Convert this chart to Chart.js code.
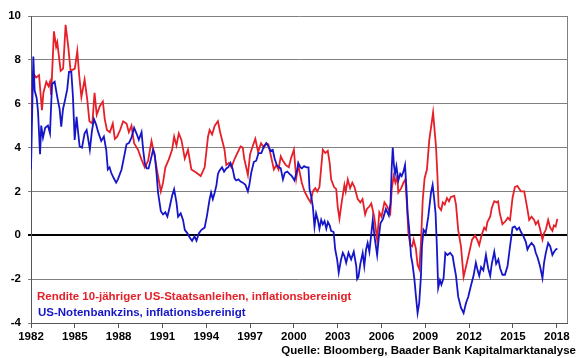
<!DOCTYPE html>
<html>
<head>
<meta charset="utf-8">
<script src="https://cdn.jsdelivr.net/npm/chart.js@4/dist/chart.umd.min.js"></script>
<style>
  html, body { margin: 0; padding: 0; background: #fff; }
</style>
</head>
<body>
<canvas id="chart" width="580" height="358"></canvas>
<script>
// Rendite 10-jähriger US-Staatsanleihen, inflationsbereinigt (red)
const redYears = [1982.00, 1982.15, 1982.35, 1982.55, 1982.75, 1982.85, 1983.05, 1983.2, 1983.3, 1983.38,
  1983.57, 1983.72, 1983.8, 1984.03, 1984.2, 1984.37, 1984.55, 1984.71, 1985.0, 1985.17,
  1985.3, 1985.45, 1985.67, 1985.85, 1986.0, 1986.2, 1986.35, 1986.5, 1986.72, 1986.92,
  1987.05, 1987.2, 1987.4, 1987.6, 1987.74, 1987.9, 1988.1, 1988.31, 1988.54, 1988.7,
  1988.88, 1989.06, 1989.33, 1989.57, 1989.79, 1990.02, 1990.25, 1990.43, 1990.66, 1990.89,
  1991.04, 1991.2, 1991.43, 1991.66, 1991.8, 1991.96, 1992.12, 1992.3, 1992.53, 1992.75,
  1992.98, 1993.33, 1993.62, 1993.89, 1994.12, 1994.23, 1994.4, 1994.58, 1994.8, 1994.95,
  1995.14, 1995.25, 1995.37, 1995.55, 1995.72, 1995.95, 1996.17, 1996.35, 1996.5, 1996.6,
  1996.85, 1997.0, 1997.15, 1997.36, 1997.55, 1997.75, 1997.95, 1998.11, 1998.25, 1998.4,
  1998.63, 1998.8, 1998.95, 1999.1, 1999.25, 1999.45, 1999.65, 1999.8, 2000.0, 2000.16,
  2000.3, 2000.54, 2000.73, 2000.96, 2001.14, 2001.3, 2001.46, 2001.6, 2001.75, 2001.98,
  2002.15, 2002.32, 2002.45, 2002.55, 2002.75, 2002.9, 2003.0, 2003.12, 2003.25, 2003.46,
  2003.55, 2003.69, 2003.85, 2004.0, 2004.15, 2004.37, 2004.55, 2004.7, 2004.88, 2005.0,
  2005.15, 2005.3, 2005.5, 2005.7, 2005.85, 2006.0, 2006.2, 2006.4, 2006.6, 2006.7,
  2006.83, 2006.95, 2007.08, 2007.15, 2007.35, 2007.5, 2007.63, 2007.74, 2007.84, 2007.97,
  2008.1, 2008.2, 2008.35, 2008.47, 2008.59, 2008.7, 2008.82, 2008.95, 2009.11, 2009.27,
  2009.43, 2009.53, 2009.62, 2009.73, 2009.83, 2009.91, 2010.08, 2010.2, 2010.33, 2010.48,
  2010.62, 2010.75, 2010.98, 2011.1, 2011.25, 2011.44, 2011.62, 2011.78, 2012.0, 2012.2,
  2012.4, 2012.55, 2012.69, 2012.85, 2013.03, 2013.15, 2013.25, 2013.44, 2013.55, 2013.72,
  2013.88, 2013.98, 2014.1, 2014.28, 2014.5, 2014.65, 2014.8, 2014.97, 2015.13, 2015.3,
  2015.55, 2015.77, 2015.88, 2016.0, 2016.11, 2016.27, 2016.45, 2016.56, 2016.72, 2016.85,
  2017.02, 2017.13, 2017.25, 2017.41, 2017.55, 2017.7, 2017.8, 2017.92, 2018.04];
const redValues = [5.4, 7.4, 7.2, 7.3, 5.7, 6.5, 7.0, 6.8, 7.0, 6.4,
  9.3, 8.6, 8.8, 7.5, 7.6, 9.6, 8.6, 7.5, 7.6, 8.4,
  7.3, 6.3, 7.1, 6.2, 5.2, 5.1, 6.5, 5.5, 5.9, 6.1,
  5.3, 4.8, 4.7, 5.1, 4.4, 4.5, 4.8, 5.2, 5.1, 4.7,
  5.0, 4.2, 3.9, 3.45, 3.1, 3.4, 4.3, 3.75, 2.85, 2.0,
  2.4, 3.1, 3.45, 3.9, 4.5, 4.1, 4.65, 4.35, 3.5, 3.9,
  3.0, 2.85, 2.7, 3.1, 4.5, 4.8, 4.6, 5.0, 5.2, 4.7,
  4.2, 3.9, 3.2, 3.3, 3.1, 3.5, 3.8, 4.05, 4.0, 3.5,
  2.75, 3.7, 4.0, 4.4, 3.8, 4.2, 4.0, 4.2, 4.15, 3.7,
  3.0, 3.2, 3.0, 3.6, 3.4, 3.2, 3.1, 3.5, 3.9, 2.6,
  3.2, 2.4, 2.0, 1.7, 1.5, 2.0, 2.15, 2.0, 2.2, 3.9,
  3.75, 3.85, 3.3, 2.55, 2.2, 2.1, 1.3, 0.75, 1.4, 2.3,
  2.0, 2.55, 2.15, 2.4, 2.2, 1.65, 1.5, 1.65, 0.95, 1.2,
  1.3, 1.45, 0.85, -0.2, 1.05, 0.85, 1.5, 1.3, 1.0, 2.1,
  2.7, 2.4, 2.7, 1.95, 2.15, 2.4, 2.55, 1.4, 0.1, -0.45,
  -0.5, -0.2, -0.6, -1.35, -1.55, -0.35, 1.6, 2.6, 3.0, 4.35,
  5.1, 5.6, 4.9, 4.05, 2.7, 1.3, 1.15, 1.5, 1.4, 1.7,
  1.55, 1.75, 1.8, 1.4, 0.25, -0.5, -1.9, -1.45, -0.8, -0.2,
  0.0, -0.2, -0.45, 0.0, 0.35, 0.25, 0.6, 0.85, 1.25, 1.55,
  1.5, 1.55, 1.0, 0.5, 0.65, 0.8, 0.7, 1.7, 2.2, 2.25,
  2.0, 2.0, 1.6, 1.15, 0.7, 0.85, 0.7, 0.5, 0.65, 0.3,
  -0.2, 0.1, 0.25, 0.7, 0.35, 0.2, 0.45, 0.4, 0.75];

// US-Notenbankzins, inflationsbereinigt (blue)
const blueYears = [1982.0, 1982.16, 1982.25, 1982.39, 1982.48, 1982.62, 1982.7, 1982.82, 1982.97, 1983.16,
  1983.3, 1983.44, 1983.62, 1983.8, 1983.96, 1984.07, 1984.19, 1984.34, 1984.48, 1984.6,
  1984.76, 1984.87, 1984.99, 1985.12, 1985.21, 1985.33, 1985.49, 1985.67, 1985.81, 1985.9,
  1986.03, 1986.17, 1986.31, 1986.46, 1986.58, 1986.81, 1986.99, 1987.15, 1987.26, 1987.38,
  1987.49, 1987.67, 1987.83, 1987.95, 1988.2, 1988.38, 1988.54, 1988.7, 1988.88, 1989.06,
  1989.22, 1989.38, 1989.57, 1989.68, 1989.79, 1989.92, 1990.05, 1990.2, 1990.36, 1990.47,
  1990.59, 1990.7, 1990.89, 1991.04, 1991.2, 1991.34, 1991.5, 1991.66, 1991.8, 1991.96,
  1992.07, 1992.25, 1992.41, 1992.53, 1992.7, 1992.87, 1993.03, 1993.2, 1993.33, 1993.5,
  1993.67, 1993.89, 1994.05, 1994.23, 1994.33, 1994.45, 1994.58, 1994.7, 1994.8, 1994.9,
  1995.08, 1995.22, 1995.37, 1995.5, 1995.66, 1995.8, 1995.94, 1996.05, 1996.2, 1996.35,
  1996.5, 1996.68, 1996.85, 1996.95, 1997.08, 1997.26, 1997.42, 1997.58, 1997.77, 1997.95,
  1998.11, 1998.22, 1998.4, 1998.55, 1998.68, 1998.83, 1998.98, 1999.1, 1999.25, 1999.38,
  1999.55, 1999.7, 1999.86, 2000.04, 2000.23, 2000.3, 2000.45, 2000.55, 2000.7, 2000.85,
  2001.0, 2001.07, 2001.18, 2001.3, 2001.41, 2001.52, 2001.64, 2001.75, 2001.87, 2001.98,
  2002.1, 2002.22, 2002.33, 2002.45, 2002.55, 2002.72, 2002.83, 2002.96, 2003.07, 2003.23,
  2003.35, 2003.46, 2003.58, 2003.74, 2003.92, 2004.1, 2004.27, 2004.33, 2004.42, 2004.55,
  2004.71, 2004.82, 2004.94, 2005.05, 2005.17, 2005.28, 2005.4, 2005.52, 2005.7, 2005.83,
  2005.93, 2006.1, 2006.3, 2006.5, 2006.62, 2006.7, 2006.77, 2006.85, 2006.93, 2007.02,
  2007.15, 2007.28, 2007.38, 2007.5, 2007.61, 2007.7, 2007.79, 2007.9, 2008.02, 2008.12,
  2008.25, 2008.36, 2008.47, 2008.58, 2008.7, 2008.77, 2008.88, 2009.03, 2009.2, 2009.39,
  2009.5, 2009.6, 2009.7, 2009.79, 2009.88, 2010.0, 2010.1, 2010.25, 2010.37, 2010.52,
  2010.7, 2010.87, 2010.98, 2011.1, 2011.25, 2011.44, 2011.62, 2011.78, 2011.94, 2012.12,
  2012.3, 2012.46, 2012.58, 2012.69, 2012.82, 2012.97, 2013.15, 2013.3, 2013.44, 2013.55,
  2013.72, 2013.85, 2014.0, 2014.12, 2014.28, 2014.45, 2014.63, 2014.8, 2014.97, 2015.12,
  2015.27, 2015.42, 2015.55, 2015.72, 2015.88, 2015.99, 2016.1, 2016.27, 2016.45, 2016.56,
  2016.68, 2016.85, 2017.02, 2017.13, 2017.25, 2017.41, 2017.55, 2017.7, 2017.82, 2017.93,
  2018.04];
const blueValues = [3.0, 8.15, 6.6, 6.25, 5.65, 3.7, 5.0, 4.45, 4.9, 5.0,
  4.65, 6.9, 7.0, 6.3, 5.75, 4.95, 5.75, 6.2, 6.65, 7.45,
  7.45, 6.35, 4.35, 5.4, 4.8, 4.05, 4.0, 4.65, 4.8, 4.45,
  3.9, 4.75, 5.3, 5.05, 4.75, 4.3, 4.5, 3.9, 3.0, 3.1,
  2.85, 2.6, 2.4, 2.55, 3.0, 3.6, 4.15, 4.2, 4.45, 4.9,
  4.65, 4.35, 4.7, 3.9, 3.3, 3.05, 3.05, 3.45, 3.9, 3.7,
  2.85, 1.95, 1.1, 0.95, 1.05, 0.85, 1.3, 1.8, 2.1, 1.5,
  0.85, 1.0, 0.7, 0.25, 0.1, -0.1, -0.25, -0.05, -0.25, 0.1,
  0.25, 0.35, 0.9, 1.65, 1.95, 1.65, 1.95, 2.3, 2.8, 2.95,
  3.1, 2.9, 3.05, 3.1, 3.3, 3.05, 2.6, 2.5, 2.55, 2.45,
  2.4, 2.3, 2.0, 2.3, 2.85, 3.35, 3.4, 3.75, 3.75, 4.05,
  4.2, 4.1, 3.85, 3.9, 3.5, 3.2, 3.1, 3.05, 2.55, 2.85,
  2.9, 2.8, 2.7, 2.5, 3.0, 3.3, 3.1, 3.05, 3.15, 3.1,
  3.1, 2.1, 1.8, 1.3, 0.4, 1.0, 0.7, 0.3, 0.7, 0.5,
  0.65, 0.3, 0.6, 0.45, 0.2, 0.15, -0.65, -1.1, -1.7, -1.1,
  -0.8, -0.95, -1.25, -0.8, -1.1, -0.75, -1.4, -2.0, -1.9, -1.3,
  -0.8, -1.4, -0.65, -0.35, -0.75, -0.05, 0.7, -0.05, -0.9, 0.0,
  0.55, 0.75, 1.2, 0.9, 1.5, 3.1, 4.0, 3.2, 2.8, 3.15,
  2.5, 2.8, 2.7, 2.9, 3.2, 2.2, 1.0, 0.25, -0.95, -1.3,
  -2.0, -2.8, -3.55, -3.1, -1.85, -0.5, 0.25, 0.1, 0.85, 1.95,
  2.3, 1.7, 1.0, -0.5, -2.4, -2.05, -2.25, -1.95, -0.8, -0.9,
  -0.8, -0.95, -1.4, -1.85, -2.8, -3.3, -3.55, -3.1, -2.8, -2.3,
  -1.85, -1.25, -1.6, -1.85, -1.45, -1.6, -0.9, -1.5, -1.85, -1.3,
  -0.75, -1.3, -1.1, -1.5, -1.8, -1.8, -1.4, -0.5, 0.35, 0.4,
  0.25, 0.35, 0.15, -0.05, -0.3, -0.65, -0.5, -0.35, -0.5, -0.8,
  -1.0, -1.4, -1.95, -1.25, -0.8, -0.35, -0.5, -0.9, -0.75, -0.65,
  -0.6];

const tickYears = [1982, 1985, 1988, 1991, 1994, 1997, 2000, 2003, 2006, 2009, 2012, 2015, 2018];

const redLabel = 'Rendite 10-jähriger US-Staatsanleihen, inflationsbereinigt';
const blueLabel = 'US-Notenbankzins, inflationsbereinigt';
const sourceText = 'Quelle: Bloomberg, Baader Bank Kapitalmarktanalyse';

const redColor = 'rgb(230,32,40)';
const blueColor = 'rgb(22,22,200)';
const fontFamily = '"Liberation Sans", Arial, sans-serif';

function toPoints(xs, ys) {
  return xs.map((x, i) => ({ x: x, y: ys[i] }));
}

// texts inside the plot + right border
const notesPlugin = {
  id: 'notes',
  afterDraw(chart) {
    const { ctx, chartArea } = chart;
    ctx.save();
    ctx.strokeStyle = '#808080';
    ctx.lineWidth = 1;
    ctx.beginPath();
    ctx.moveTo(chartArea.right + 0.5, chartArea.top);
    ctx.lineTo(chartArea.right + 0.5, chartArea.bottom);
    ctx.stroke();

    ctx.font = 'bold 11.5px ' + fontFamily;
    ctx.textBaseline = 'middle';
    ctx.textAlign = 'left';
    ctx.fillStyle = redColor;
    ctx.fillText(redLabel, chartArea.left + 6, 296.5);
    ctx.fillStyle = blueColor;
    ctx.fillText(blueLabel, chartArea.left + 7, 313);
    ctx.fillStyle = '#000';
    ctx.textAlign = 'right';
    ctx.fillText(sourceText, 576, 350.5);
    ctx.restore();
  }
};

const ctx = document.getElementById('chart');

var chart = new Chart(ctx, {
  type: 'line',
  data: {
    datasets: [{
      label: blueLabel,
      data: toPoints(blueYears, blueValues),
      borderColor: blueColor,
      borderWidth: 1.8,
      pointRadius: 0,
      tension: 0
    }, {
      label: redLabel,
      data: toPoints(redYears, redValues),
      borderColor: redColor,
      borderWidth: 1.8,
      pointRadius: 0,
      tension: 0
    }]
  },
  options: {
    responsive: false,
    animation: false,
    layout: { padding: { top: 16, right: 13, bottom: 0, left: 0 } },
    plugins: {
      legend: { display: false },
      tooltip: { enabled: false }
    },
    scales: {
      x: {
        type: 'linear',
        min: 1982,
        max: 2018.7,
        afterBuildTicks: axis => { axis.ticks = tickYears.map(v => ({ value: v })); },
        afterFit: axis => { axis.height = 35; },
        ticks: {
          autoSkip: false,
          maxRotation: 0,
          padding: 2,
          color: '#000',
          font: { family: fontFamily, size: 11.5, weight: 'bold' },
          callback: v => String(v)
        },
        grid: { drawOnChartArea: false, tickLength: 5, color: '#555' },
        border: { color: '#555', width: 1 }
      },
      y: {
        min: -4,
        max: 10,
        afterFit: axis => { axis.width = 31; },
        ticks: {
          stepSize: 2,
          padding: 7,
          color: '#000',
          font: { family: fontFamily, size: 11.5, weight: 'bold' }
        },
        grid: {
          tickLength: 3,
          color: c => (c.tick && c.tick.value === 0) ? '#000' : '#808080',
          lineWidth: c => (c.tick && c.tick.value === 0) ? 2 : 1
        },
        border: { color: '#555', width: 1 }
      }
    }
  },
  plugins: [notesPlugin]
});
</script>
</body>
</html>
